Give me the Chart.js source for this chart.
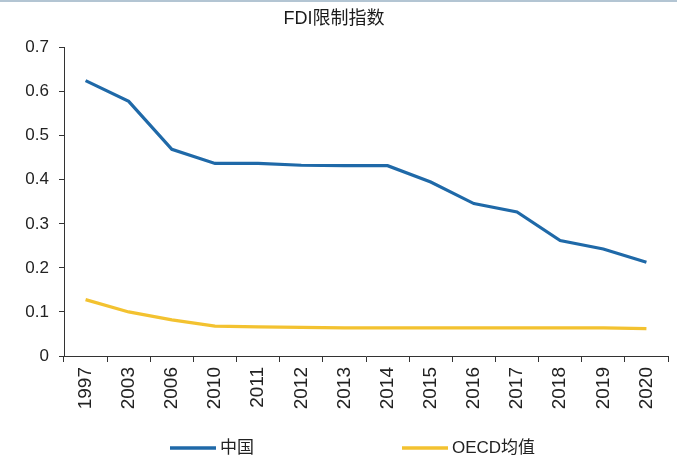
<!DOCTYPE html>
<html>
<head>
<meta charset="utf-8">
<script src="https://cdn.jsdelivr.net/npm/chart.js@4/dist/chart.umd.min.js"></script>
<style>
  html, body { margin: 0; padding: 0; background: #fff; }
  #wrap { width: 677px; height: 459px; position: relative; }
</style>
</head>
<body>
<div id="wrap"><canvas id="chart" width="677" height="459"></canvas></div>
<script>
var years = ["1997", "2003", "2006", "2010", "2011", "2012", "2013", "2014", "2015", "2016", "2017", "2018", "2019", "2020"];
var china = [0.625, 0.578, 0.469, 0.437, 0.437, 0.433, 0.432, 0.432, 0.395, 0.346, 0.327, 0.262, 0.243, 0.213];
var oecd = [0.128, 0.100, 0.082, 0.068, 0.066, 0.065, 0.064, 0.064, 0.064, 0.064, 0.064, 0.064, 0.064, 0.062];
var yTicks = [0, 0.1, 0.2, 0.3, 0.4, 0.5, 0.6, 0.7];

var latin = "'Liberation Sans', Arial, 'Noto Sans CJK SC', sans-serif";

// legend drawn by hand so the two items sit apart like the original
var bottomLegend = {
  id: "bottomLegend",
  beforeDraw: function(chart) {
    var c = chart.ctx;
    c.save();
    c.fillStyle = "#b3c5d3";
    c.fillRect(0, 0, chart.width, 2);
    c.restore();
  },
  afterDraw: function(chart) {
    var c = chart.ctx;
    var xs = [170, 402];
    var y = 448;
    c.save();
    c.font = "17px 'Liberation Sans', 'Noto Sans CJK SC', sans-serif";
    c.textBaseline = "middle";
    chart.data.datasets.forEach(function(ds, i) {
      c.strokeStyle = ds.borderColor;
      c.lineWidth = 3.5;
      c.beginPath();
      c.moveTo(xs[i], y);
      c.lineTo(xs[i] + 46, y);
      c.stroke();
      c.fillStyle = "#222";
      c.fillText(ds.label, xs[i] + 50, y);
    });
    c.restore();
  }
};

new Chart(document.getElementById("chart"), {
  type: "line",
  data: {
    labels: years,
    datasets: [
      { label: "中国", data: china, borderColor: "#1f69a8", borderWidth: 3.2, pointRadius: 0, tension: 0, fill: false },
      { label: "OECD均值", data: oecd, borderColor: "#f3c230", borderWidth: 3.2, pointRadius: 0, tension: 0, fill: false }
    ]
  },
  options: {
    responsive: false,
    animation: false,
    layout: { padding: { left: 0, right: 9, top: 0, bottom: 0 } },
    plugins: {
      legend: { display: false },
      tooltip: { enabled: false },
      title: {
        display: true,
        text: "FDI限制指数",
        color: "#1a1a1a",
        font: { family: latin, size: 18, weight: "normal" },
        padding: { top: 8, bottom: 18 }
      }
    },
    scales: {
      x: {
        offset: true,
        grid: { offset: true, drawOnChartArea: false, drawTicks: true, tickLength: 6, color: "#333", lineWidth: 1 },
        border: { display: true, color: "#333", width: 1 },
        ticks: {
          color: "#222",
          font: { family: latin, size: 19 },
          minRotation: 90,
          maxRotation: 90,
          padding: 5,
          autoSkip: false
        },
        afterFit: function(s) { s.height = 103; }
      },
      y: {
        min: 0,
        max: 0.7,
        afterBuildTicks: function(s) { s.ticks = yTicks.map(function(v) { return { value: v }; }); },
        grid: { drawOnChartArea: false, drawTicks: true, tickLength: 5, color: "#333", lineWidth: 1 },
        border: { display: true, color: "#333", width: 1 },
        ticks: {
          color: "#222",
          font: { family: latin, size: 17 },
          padding: 10,
          callback: function(v) { return String(Math.round(v * 10) / 10); }
        },
        afterFit: function(s) { s.width = 64; }
      }
    }
  },
  plugins: [bottomLegend]
});
</script>
</body>
</html>
